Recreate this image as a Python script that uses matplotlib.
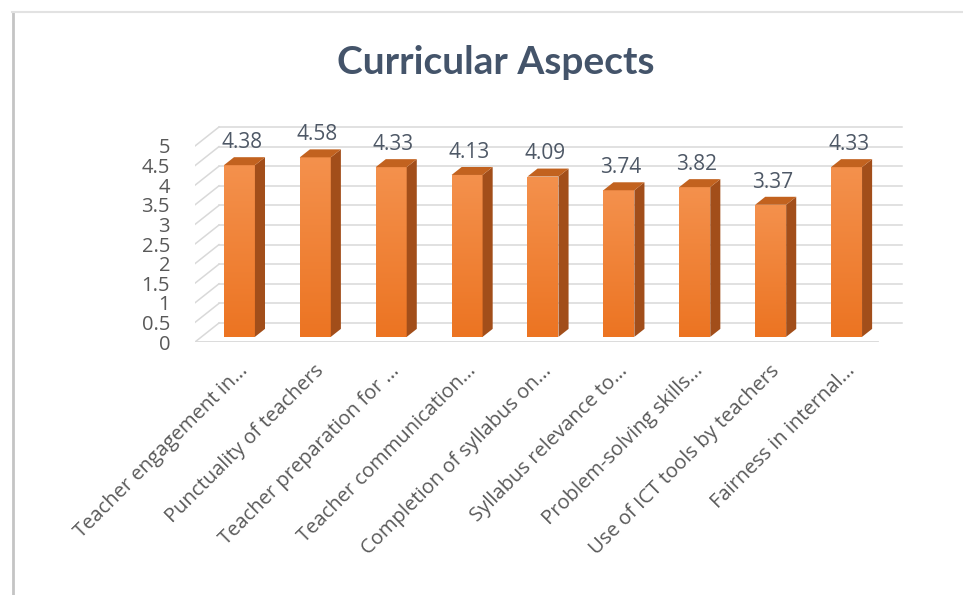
import numpy as np
import matplotlib.pyplot as plt
from matplotlib.patches import Polygon
from matplotlib.lines import Line2D
from matplotlib.colors import LinearSegmentedColormap

categories = [
    "Teacher engagement in...",
    "Punctuality of teachers",
    "Teacher preparation for ...",
    "Teacher communication...",
    "Completion of syllabus on...",
    "Syllabus relevance to...",
    "Problem-solving skills...",
    "Use of ICT tools by teachers",
    "Fairness in internal...",
]
scores = [4.38, 4.58, 4.33, 4.13, 4.09, 3.74, 3.82, 3.37, 4.33]
y_ticks = [0, 0.5, 1, 1.5, 2, 2.5, 3, 3.5, 4, 4.5, 5]
y_tick_labels = ["0", "0.5", "1", "1.5", "2", "2.5", "3", "3.5", "4", "4.5", "5"]

W, H = 963, 595
fig = plt.figure(figsize=(W / 100, H / 100), dpi=100)
fig.patch.set_facecolor("white")

# pixel geometry of the front floor edge
x_left_px, x_right_px = 195, 878
y_zero_px = H - 342
n = len(categories)
ppx = (x_right_px - x_left_px) / n
ppy = 39.2
xlim = (-0.5, n - 0.5 + 0.6)
ylim = (0, 5.9)
ax = fig.add_axes([x_left_px / W, y_zero_px / H,
                   (xlim[1] - xlim[0]) * ppx / W, (ylim[1] - ylim[0]) * ppy / H])
ax.set_xlim(xlim)
ax.set_ylim(ylim)
for s in ax.spines.values():
    s.set_visible(False)
ax.set_xticks([])
ax.set_yticks(y_ticks, labels=y_tick_labels)
ax.tick_params(axis="y", length=0, pad=18, labelsize=14.5, labelcolor="#595959")
for lab in ax.get_yticklabels():
    lab.set_fontfamily("Open Sans")

# depth of the 3D box, in data units
DX = 24 / ppx
DY = 19 / ppy
grid_c = "#d9d9d9"
x0, x1 = -0.5, n - 0.5

# back wall gridlines with their left-side diagonals
for v in y_ticks:
    ax.plot([x0 + DX, x1 + DX], [v + DY, v + DY], color=grid_c, lw=1.1, zorder=1)
    ax.plot([x0, x0 + DX], [v, v + DY], color=grid_c, lw=1.1, zorder=1)
ax.plot([x0, x1], [0, 0], color=grid_c, lw=1.3, zorder=1)

# 3D columns
f0, fd = 0.27, 0.42
sx, sy = f0 * DX, f0 * DY
bdx, bdy = fd * DX, fd * DY
bw = 31 / ppx
grad = np.linspace(0, 1, 256).reshape(-1, 1)
front_cmap = LinearSegmentedColormap.from_list("front", ["#ec7422", "#f4914d"])

for i, v in enumerate(scores):
    xc = i + sx
    xl, xr = xc - bw / 2, xc + bw / 2
    yb, yt = sy, v + sy
    front = Polygon([(xl, yb), (xr, yb), (xr, yt), (xl, yt)], closed=True,
                    facecolor="none", edgecolor="none", zorder=3)
    ax.add_patch(front)
    im = ax.imshow(grad, cmap=front_cmap, aspect="auto", origin="lower",
                   extent=(xl, xr, yb, yt), zorder=3)
    im.set_clip_path(front)
    side = Polygon([(xr, yb), (xr + bdx, yb + bdy), (xr + bdx, yt + bdy), (xr, yt)],
                   closed=True, facecolor="#a24e1a", edgecolor="none", zorder=3)
    top = Polygon([(xl, yt), (xr, yt), (xr + bdx, yt + bdy), (xl + bdx, yt + bdy)],
                  closed=True, facecolor="#c2621f", edgecolor="none", zorder=3)
    ax.add_patch(side)
    ax.add_patch(top)
    ax.text(xc + 0.03, v + 0.57, f"{v:.2f}", ha="center", va="baseline",
            fontsize=15, color="#4e5866", family="Open Sans", zorder=4)

ax.set_xlim(xlim)
ax.set_ylim(ylim)

# rotated category labels
for i, name in enumerate(categories):
    ax.text(i + 0.16, -0.66, name, rotation=45, rotation_mode="anchor",
            ha="right", va="center", fontsize=14.5, color="#595959",
            family="Open Sans", clip_on=False)

fig.text(0.515, (H - 63) / H, "Curricular Aspects", ha="center", va="center",
         fontsize=28, fontweight="bold", color="#44546a", family="Lato")

# chart frame edges
fig.add_artist(Line2D([12.5 / W, 12.5 / W], [0, (H - 12) / H], color="#c4c4c4", lw=2))
fig.add_artist(Line2D([12 / W, 1], [(H - 12) / H, (H - 12) / H], color="#e2e2e2", lw=1.5))

fig.savefig("out.png", dpi=100)
